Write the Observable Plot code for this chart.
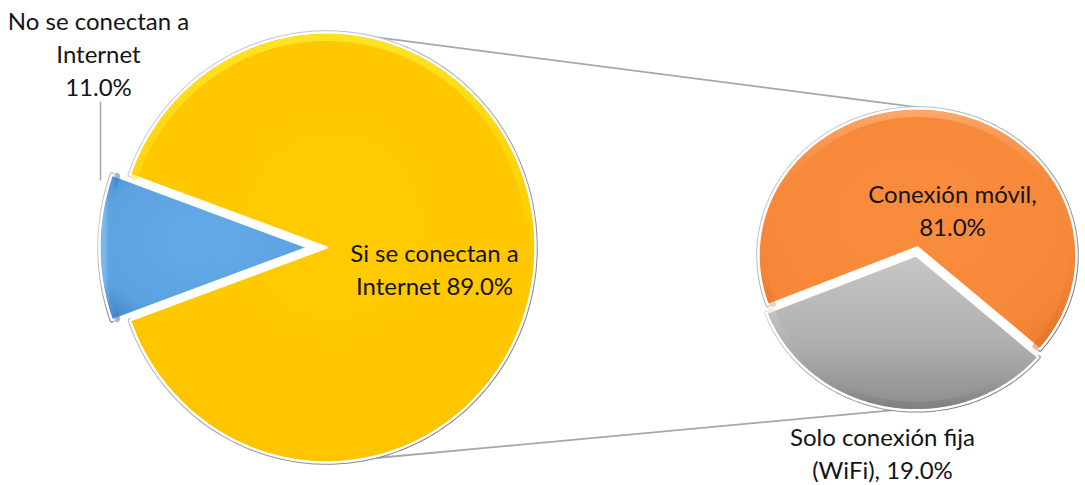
<!DOCTYPE html>
<html><head><meta charset="utf-8">
<script src="https://cdn.jsdelivr.net/npm/d3@7"></script>
<script src="https://cdn.jsdelivr.net/npm/@observablehq/plot@0.6"></script>
<style>
  html, body { margin: 0; padding: 0; background: #ffffff; }
  #chart { width: 1085px; height: 485px; }
</style>
</head><body><div id="chart"></div>
<script>
// ---------------- DATA ----------------
const mainCategories = ["No se conectan a\nInternet", "Si se conectan a\nInternet"];
const mainValues = [11.0, 89.0];
const subCategories = ["Conexión móvil,", "Solo conexión fija\n(WiFi),"];
const subValues = [81.0, 19.0];
// slice sizes of the second pie as they are drawn in the reference picture
const subDrawnShares = [66.5, 33.5];
const mainColors = ["url(#gBlue)", "url(#gYellow)"];
const subColors = ["url(#gOrange)", "url(#gGray)"];

// ---------------- LAYOUT ----------------
const W = 1085, H = 485;
const LEFT = {cx: 326, cy: 247, rx: 209, ry: 215, apexDy: 0};
const RIGHT = {cx: 917, cy: 255, rx: 159, ry: 147, apexDy: -8};
const rad = d => d * Math.PI / 180;
const fmt = v => v.toFixed(1) + "%";

function buildPie(names, shares, geo, focusIdx, focusCenterDeg, explodePx) {
  const total = d3.sum(shares);
  const spans = shares.map(s => s / total * 360);
  const before = d3.sum(spans.slice(0, focusIdx));
  let a0 = focusCenterDeg - spans[focusIdx] / 2 - before;
  const out = [];
  names.forEach((name, i) => {
    const a1 = a0 + spans[i];
    const mid = rad((a0 + a1) / 2);
    const off = i === focusIdx ? explodePx : 0;
    const ox = geo.cx + off * Math.cos(mid), oy = geo.cy + off * Math.sin(mid);
    const n = Math.max(2, Math.ceil(spans[i]));
    const ring = (dr) => d3.range(n + 1).map(k => {
      const a = rad(a0 + (a1 - a0) * k / n);
      return {x: ox + (geo.rx - dr) * Math.cos(a), y: oy + (geo.ry - dr) * Math.sin(a)};
    });
    const arc = ring(0), inner = ring(5);
    out.push({name, i, a0, a1, ox, oy, poly: [{x: ox, y: oy + geo.apexDy}, ...arc], arc, inner});
    a0 = a1;
  });
  return out;
}

const leftPie = buildPie(mainCategories, mainValues, LEFT, 0, 180, 18);
const rightPie = buildPie(subCategories, subDrawnShares, RIGHT, 1, 100, 8);

function rimPoint(geo, deg, off = {x: 0, y: 0}) {
  return {x: geo.cx + off.x + geo.rx * Math.cos(rad(deg)), y: geo.cy + off.y + geo.ry * Math.sin(rad(deg))};
}
const grayOff = {x: rightPie[1].ox - RIGHT.cx, y: rightPie[1].oy - RIGHT.cy};
const connectors = [
  {a: rimPoint(LEFT, -84), b: rimPoint(RIGHT, -84)},
  {a: rimPoint(LEFT, 80), b: rimPoint(RIGHT, 96, grayOff)}
];

const labels = [
  {text: mainCategories[0] + "\n" + fmt(mainValues[0]), x: 98, y: 52},
  {text: mainCategories[1] + " " + fmt(mainValues[1]), x: 434, y: 267},
  {text: subCategories[0] + "\n" + fmt(subValues[0]), x: 952, y: 208},
  {text: subCategories[1] + " " + fmt(subValues[1]), x: 882, y: 451}
];
const leader = [{x1: 100, y1: 101, x2: 100, y2: 180}];

// ---------------- MARKS ----------------
const marks = [];
marks.push(Plot.link(connectors, {x1: d => d.a.x, y1: d => d.a.y, x2: d => d.b.x, y2: d => d.b.y, stroke: "#a6a6ab", strokeWidth: 1.8}));

function pieMarks(pie, colors, hl) {
  pie.forEach((s, i) => {
    marks.push(Plot.line(s.arc, {x: "x", y: "y", stroke: "url(#gRim)", strokeWidth: 4.5}));
    marks.push(Plot.line(s.poly, {x: "x", y: "y", curve: "linear-closed", fill: colors[i], stroke: "#ffffff", strokeWidth: 2.5, strokeLinejoin: "round"}));
    marks.push(Plot.line(s.inner, {x: "x", y: "y", stroke: hl[i], strokeWidth: 7, strokeOpacity: 0.8}));
  });
}
pieMarks(leftPie, mainColors, ["url(#hBlue)", "url(#hYellow)"]);
pieMarks(rightPie, subColors, ["url(#hOrange)", "url(#hGray)"]);

marks.push(Plot.link(leader, {x1: "x1", y1: "y1", x2: "x2", y2: "y2", stroke: "#a6a6ab", strokeWidth: 1.5}));
marks.push(Plot.text(labels, {x: "x", y: "y", text: "text", textAnchor: "middle", lineAnchor: "middle", lineHeight: 1.375, fontSize: 24, fill: "#141414"}));

const svg = Plot.plot({
  width: W, height: H, margin: 0,
  x: {domain: [0, W], range: [0, W], axis: null},
  y: {domain: [0, H], range: [0, H], axis: null},
  style: {background: "#ffffff", fontFamily: "Lato, 'Open Sans', sans-serif", overflow: "visible"},
  marks
});

// gradients
const defs = d3.select(svg).insert("defs", ":first-child");
function radial(id, stops) {
  const g = defs.append("radialGradient").attr("id", id).attr("cx", "50%").attr("cy", "45%").attr("r", "65%");
  stops.forEach(([o, c, op]) => g.append("stop").attr("offset", o).attr("stop-color", c).attr("stop-opacity", op ?? 1));
}
function linear(id, stops, x2 = 0, y2 = 1) {
  const g = defs.append("linearGradient").attr("id", id).attr("x1", 0).attr("y1", 0).attr("x2", x2).attr("y2", y2);
  stops.forEach(([o, c, op]) => g.append("stop").attr("offset", o).attr("stop-color", c).attr("stop-opacity", op ?? 1));
}
radial("gYellow", [["0%", "#FFCB00"], ["80%", "#FFC700"], ["100%", "#F6BB00"]]);
radial("gBlue", [["0%", "#64AAE8"], ["80%", "#5CA2E0"], ["100%", "#4A8DCC"]]);
radial("gOrange", [["0%", "#F98C3D"], ["80%", "#F7883A"], ["100%", "#EE7C2E"]]);
linear("gGray", [["0%", "#C6C6C6"], ["55%", "#B0B0B0"], ["100%", "#8C8C8C"]]);
linear("gRim", [["0%", "#D6D6E4"], ["50%", "#A8A8B4"], ["100%", "#6E6E6E"]], 1, 1);
linear("hYellow", [["0%", "#FFEA2A", 1], ["35%", "#FFE01A", 0.6], ["60%", "#FFD000", 0]]);
linear("hBlue", [["0%", "#8CC4F0", 0.8], ["60%", "#5CA2E0", 0], ["100%", "#3F7FBF", 0.7]], 1, 0);
linear("hOrange", [["0%", "#FFB27A", 0.9], ["40%", "#F7883A", 0], ["100%", "#D86E22", 0.6]]);
linear("hGray", [["0%", "#D8D8D8", 0.5], ["60%", "#A0A0A0", 0], ["100%", "#7A7A7A", 0.8]]);

document.getElementById("chart").appendChild(svg);
</script>
</body></html>
